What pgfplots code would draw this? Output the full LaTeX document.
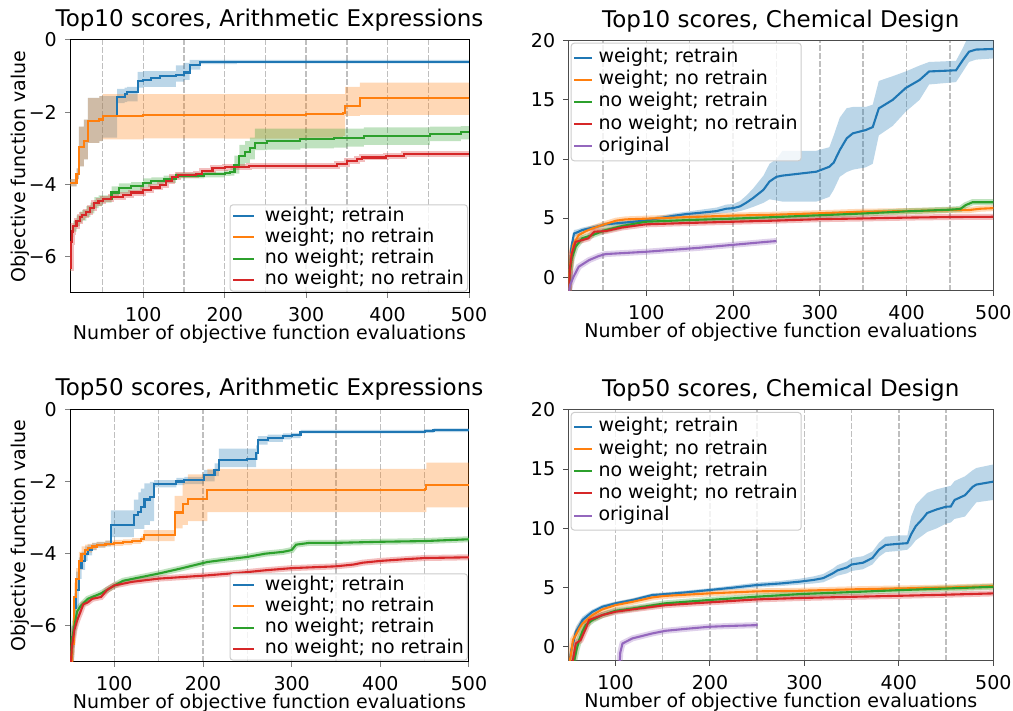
\documentclass[border=0pt]{standalone}
\usepackage{pgfplots}
\pgfplotsset{compat=1.18}
\usepackage{pgfplotstable}
\usepgfplotslibrary{fillbetween}
\usepackage{fontspec}
\setmainfont{DejaVu Sans}
\definecolor{tabblue}{HTML}{1F77B4}
\definecolor{taborange}{HTML}{FF7F0E}
\definecolor{tabgreen}{HTML}{2CA02C}
\definecolor{tabred}{HTML}{D62728}
\definecolor{tabpurple}{HTML}{9467BD}

% ---------------- Top10, Arithmetic ----------------
\pgfplotstableread{
x y lo hi
10 -3.95 -4.05 -3.85
18 -3.7 -3.85 -3.55
21 -2.95 -3.5 -2.4
27 -2.8 -3.3 -2.2
32 -2.25 -2.85 -1.6
46 -2.2 -2.8 -1.55
50 -2.1 -2.7 -1.55
68 -1.58 -1.75 -1.35
77 -1.5 -1.72 -1.32
80 -1.45 -1.7 -1.3
93 -1.14 -1.32 -0.88
100 -1.1 -1.3 -0.86
110 -1.05 -1.3 -0.86
120 -1.0 -1.3 -0.86
140 -0.98 -1.15 -0.7
150 -0.9 -1.1 -0.63
157 -0.68 -0.82 -0.55
170 -0.61 -0.67 -0.55
215 -0.6 -0.65 -0.55
500 -0.6 -0.65 -0.55
}\tlblue
\pgfplotstableread{
x y lo hi
10 -3.95 -4.05 -3.85
18 -3.7 -3.85 -3.55
21 -2.95 -3.5 -2.4
27 -2.8 -3.3 -2.2
32 -2.25 -2.85 -1.6
46 -2.2 -2.8 -1.55
50 -2.1 -2.75 -1.5
100 -2.08 -2.72 -1.5
200 -2.07 -2.73 -1.5
300 -2.05 -2.7 -1.5
345 -2.02 -2.65 -1.5
348 -1.82 -2.1 -1.3
366 -1.61 -2.07 -1.18
500 -1.6 -2.07 -1.18
}\tlorange
\pgfplotstableread{
x y lo hi
10 -6.3 -6.4 -6.2
11 -5.6 -5.75 -5.45
12 -5.3 -5.45 -5.15
14 -5.15 -5.3 -5.0
18 -5.0 -5.15 -4.85
22 -4.9 -5.05 -4.75
25 -4.85 -5.0 -4.7
30 -4.75 -4.9 -4.6
35 -4.65 -4.8 -4.5
40 -4.5 -4.65 -4.35
45 -4.45 -4.6 -4.3
50 -4.4 -4.5 -4.3
61 -4.22 -4.35 -4.05
70 -4.1 -4.25 -3.97
85 -4.05 -4.17 -3.93
100 -3.95 -4.07 -3.83
110 -3.9 -4.0 -3.8
125 -3.85 -3.95 -3.75
140 -3.75 -3.83 -3.67
175 -3.72 -3.8 -3.64
200 -3.68 -3.76 -3.6
207 -3.65 -3.75 -3.55
212 -3.45 -3.7 -3.2
218 -3.2 -3.5 -2.9
225 -3.1 -3.4 -2.8
231 -3.0 -3.3 -2.7
237 -2.85 -3.05 -2.45
252 -2.8 -3.03 -2.45
293 -2.75 -3.0 -2.45
334 -2.72 -2.98 -2.45
350 -2.7 -2.95 -2.45
371 -2.65 -2.9 -2.42
452 -2.6 -2.8 -2.4
490 -2.55 -2.75 -2.38
500 -2.55 -2.75 -2.38
}\tlgreen
\pgfplotstableread{
x y
10 -6.3
11 -5.6
12 -5.3
14 -5.15
18 -5.0
22 -4.9
25 -4.85
30 -4.75
35 -4.65
40 -4.5
45 -4.45
50 -4.4
60 -4.35
75 -4.3
85 -4.22
100 -4.15
110 -4.08
120 -4.0
128 -3.9
135 -3.8
143 -3.74
165 -3.72
172 -3.62
185 -3.55
200 -3.52
230 -3.48
338 -3.43
350 -3.35
363 -3.3
369 -3.25
398 -3.2
420 -3.15
500 -3.15
}\tlred

% ---------------- Top10, Chemical ----------------
\pgfplotstableread{
x y lo hi
10 -2 -2.2 -1.8
12 1.0 0.7 1.3
13.5 2.5 2.1 2.9
16.5 3.7 3.4 4.0
20 3.8 3.55 4.05
26 4.0 3.8 4.2
38 4.2 4.0 4.4
53 4.48 4.3 4.65
70 4.6 4.45 4.75
85 4.7 4.55 4.85
99 4.8 4.65 4.95
115 5.0 4.8 5.2
131 5.2 5.0 5.4
146 5.35 5.15 5.55
161 5.45 5.2 5.7
181 5.6 5.35 5.9
192 5.8 5.45 6.15
200 5.85 5.5 6.2
208 6.0 5.6 6.45
215 6.3 5.75 6.9
223 6.7 5.95 7.5
235 7.4 6.3 8.6
242 8.1 6.6 9.6
250 8.5 6.5 10.0
257 8.6 6.4 10.7
296 8.93 6.4 10.7
311 9.35 6.8 11.0
316 9.7 7.4 12.0
323 10.76 8.5 13.5
331 11.75 8.9 14.3
338 12.17 9.1 14.4
353 12.45 9.3 14.4
361 12.7 9.6 14.6
368 14.28 12.0 16.6
384 15.0 12.8 17.0
399 16.0 14.0 17.4
415 16.68 15.0 17.9
426 17.4 16.3 18.2
457 17.5 16.5 18.3
465 18.37 17.4 19.4
472 19.07 18.2 20.5
480 19.25 18.4 20.6
500 19.3 18.5 20.6
}\trblue
\pgfplotstableread{
x y
10 -2
11.5 0.5
13 1.8
16 2.8
22 3.57
30 3.9
38 4.14
49 4.42
65 4.79
76 4.9
99 4.96
150 5.1
199 5.22
250 5.3
300 5.42
350 5.55
400 5.6
450 5.68
472 5.69
485 5.8
500 5.85
}\trorange
\pgfplotstableread{
x y
10 -2
12 0.5
14 1.6
18.4 2.59
26 3.3
38 3.58
53 4.0
72 4.34
99 4.7
150 4.85
199 4.96
250 5.1
300 5.25
350 5.4
400 5.58
450 5.72
462 5.78
468 6.1
476 6.35
500 6.35
}\trgreen
\pgfplotstableread{
x y
10 -2
12 0.8
14 2.0
18.4 3.0
26 3.15
33 3.3
40 3.86
53 3.91
72 4.22
99 4.48
150 4.6
199 4.7
250 4.8
300 4.92
350 4.98
400 5.05
450 5.1
500 5.12
}\trred
\pgfplotstableread{
x y
10 -1.5
12 -0.65
16 0.05
22 0.9
34 1.46
45 1.8
53 1.97
99 2.16
161 2.5
200 2.75
238 3.0
250 3.07
}\trpurple

% ---------------- Top50, Arithmetic ----------------
\pgfplotstableread{
x y lo hi
50 -7.5 -7.5 -7.5
52 -6.3 -6.6 -6.0
55 -5.5 -5.9 -5.1
57 -5.0 -5.5 -4.5
60 -4.4 -4.7 -4.1
63 -4.2 -4.45 -3.95
67 -4.0 -4.2 -3.8
70 -3.9 -4.05 -3.75
75 -3.8 -3.9 -3.7
80 -3.75 -3.83 -3.67
90 -3.72 -3.8 -3.64
96 -3.2 -3.54 -2.8
122 -2.94 -3.31 -2.5
127 -2.85 -3.31 -2.3
130 -2.7 -3.31 -2.2
134 -2.5 -3.2 -2.05
140 -2.43 -3.1 -2.01
145 -2.06 -2.16 -1.96
170 -2.0 -2.1 -1.9
179 -1.97 -2.07 -1.87
201 -1.83 -2.0 -1.68
213 -1.69 -1.85 -1.5
218 -1.41 -1.6 -1.09
250 -1.37 -1.6 -1.09
260 -1.2 -1.4 -1.0
262 -0.86 -0.98 -0.74
273 -0.79 -0.9 -0.7
290 -0.75 -0.83 -0.67
300 -0.72 -0.8 -0.65
310 -0.62 -0.67 -0.57
450 -0.6 -0.65 -0.55
460 -0.58 -0.63 -0.53
500 -0.58 -0.63 -0.53
}\blblue
\pgfplotstableread{
x y lo hi
50 -7.5 -7.5 -7.5
52 -6.5 -6.8 -6.2
55 -5.2 -5.6 -4.8
57 -4.7 -5.0 -4.4
60 -4.2 -4.45 -3.95
63 -4.0 -4.2 -3.8
67 -3.9 -4.05 -3.75
70 -3.85 -3.97 -3.73
75 -3.8 -3.9 -3.7
80 -3.75 -3.83 -3.67
90 -3.72 -3.8 -3.64
100 -3.7 -3.78 -3.62
110 -3.68 -3.76 -3.6
120 -3.65 -3.73 -3.57
130 -3.6 -3.68 -3.52
133 -3.49 -3.65 -3.35
165 -3.49 -3.65 -3.35
168 -2.86 -3.3 -2.4
177 -2.62 -3.2 -2.0
183 -2.48 -3.1 -1.8
205 -2.24 -2.85 -1.65
450 -2.22 -2.85 -1.65
452 -2.1 -2.72 -1.48
500 -2.1 -2.72 -1.48
}\blorange
\pgfplotstableread{
x y
50 -7.5
52 -6.4
55 -6.0
58 -5.6
62 -5.45
66 -5.35
70 -5.25
85 -5.1
92 -5.0
100 -4.88
110 -4.75
122 -4.69
150 -4.55
175 -4.41
205 -4.23
230 -4.15
250 -4.09
270 -4.0
290 -3.95
300 -3.9
305 -3.75
320 -3.7
350 -3.7
400 -3.67
450 -3.65
500 -3.6
}\blgreen
\pgfplotstableread{
x y
50 -7.5
52 -6.6
55 -6.1
58 -5.85
62 -5.6
65 -5.4
70 -5.35
75 -5.25
85 -5.2
92 -5.0
100 -4.88
120 -4.78
150 -4.69
175 -4.65
205 -4.6
250 -4.51
270 -4.46
300 -4.4
350 -4.35
370 -4.3
380 -4.25
400 -4.2
430 -4.15
450 -4.12
500 -4.1
}\blred

% ---------------- Top50, Chemical ----------------
\pgfplotstableread{
x y lo hi
50 -2 -2.2 -1.8
53 -0.3 -0.7 0.1
56 0.6 0.1 1.1
58 1.27 0.8 1.7
62 1.8 1.4 2.2
65 2.26 1.95 2.55
70 2.6 2.35 2.85
75.6 2.96 2.75 3.15
86 3.38 3.2 3.55
100 3.67 3.5 3.82
118 3.95 3.8 4.1
139 4.37 4.22 4.52
153 4.45 4.3 4.6
175 4.6 4.45 4.75
199 4.79 4.64 4.94
225 5.0 4.82 5.18
249 5.21 5.0 5.42
275 5.35 5.13 5.57
295 5.5 5.25 5.75
310 5.65 5.35 5.95
320 5.8 5.45 6.15
330 6.2 5.8 6.6
335 6.45 6.0 6.9
345 6.7 6.2 7.2
350 6.95 6.4 7.5
362 7.1 6.55 7.65
372 7.5 6.95 8.05
379 8.2 7.6 8.8
386 8.6 8.0 9.3
400 8.7 8.1 9.4
409 8.75 8.2 9.4
413 9.5 8.5 11.0
418 10.2 9.0 12.0
425 10.8 9.4 12.6
430 11.3 9.7 13.0
440 11.6 10.0 13.3
450 11.83 10.4 13.5
455 11.85 10.5 13.6
459 12.4 10.8 14.0
470 12.8 11.0 14.4
478 13.5 11.8 14.9
482 13.7 12.2 15.1
500 13.95 12.4 15.4
}\brblue
\pgfplotstableread{
x y
50 -2
53 -0.5
55 0.6
58 1.0
62 1.6
65 1.97
70 2.3
75.6 2.68
86 3.16
100 3.52
118 3.8
139 4.17
153 4.3
199 4.51
249 4.68
295 4.73
350 4.85
402 4.93
450 5.0
500 5.12
}\brorange
\pgfplotstableread{
x y
50 -2
56 -1.3
58.5 -0.3
61.5 0.57
65 1.3
68.5 1.83
75.6 2.26
86 2.68
100 3.04
118 3.24
153 3.67
199 3.95
249 4.23
295 4.45
350 4.62
402 4.79
450 4.92
500 5.07
}\brgreen
\pgfplotstableread{
x y
50 -2
54.5 -1.3
58 0.28
63 0.56
68.5 1.55
72 2.26
86 2.68
100 2.96
118 3.16
153 3.52
199 3.75
249 4.0
295 4.12
350 4.22
402 4.31
450 4.4
500 4.51
}\brred
\pgfplotstableread{
x y
103.8 -2
105 -0.5
107.4 0.28
118 0.71
139 1.13
153 1.35
175 1.52
199 1.69
225 1.77
250.4 1.83
}\brpurple

\pgfplotsset{
  base/.style={
    scale only axis,
    axis line style={line width=1pt},
    tick align=outside,
    xtick pos=bottom, ytick pos=left,
    major tick length=5pt,
    tick style={line width=1pt},
    tick label style={font=\fontsize{19}{23}\selectfont},
    xticklabel style={anchor=base, inner sep=0pt, yshift=-24pt},
    yticklabel style={anchor=east, inner sep=0pt, xshift=-8pt},
    title style={font=\fontsize{23}{27}\selectfont, at={(axis description cs:0.5,1)}, anchor=base, yshift=7.3pt},
    xlabel style={font=\fontsize{19}{23}\selectfont, at={(axis description cs:0.5,0)}, anchor=base, yshift=-47pt},
    ylabel style={font=\fontsize{19}{23}\selectfont, at={(axis description cs:-0.1103,0.5)}, anchor=base},
    xlabel={Number of objective function evaluations},
    xmax=500,
    xtick={100,200,300,400,500},
    xticklabels={100,200,300,400,500},
    extra x tick labels={},
    extra x tick style={major tick length=0pt, xmajorgrids=true},
    major grid style={black!25, line width=1.5pt, dash pattern=on 5.5pt off 2.5pt},
    legend cell align=left,
    legend image code/.code={\draw[##1, line width=2pt] (0pt,0pt) -- (20.7pt,0pt);},
  },
  lnA/.style={line width=2.1pt, const plot},
  lnC/.style={line width=2.1pt},
  bandthick/.style={line width=6pt, opacity=0.3, forget plot},
  leg4/.style={legend style={at={(axis description cs:1,0)}, anchor=south east, xshift=-1pt, yshift=1.3pt,
      draw=black!20, line width=1pt, fill=white, fill opacity=0.8, text opacity=1, rounded corners=3pt,
      inner xsep=2pt, inner ysep=1pt, row sep=0pt, column sep=8.5pt,
      font=\fontsize{19}{19}\selectfont,
      nodes={inner xsep=1.5pt, inner ysep=1.05pt, text height=14.5pt, text depth=4.5pt}}},
  leg5/.style={legend style={at={(axis description cs:0,1)}, anchor=north west, xshift=2.4pt, yshift=-2pt,
      draw=black!20, line width=1pt, fill=white, fill opacity=0.8, text opacity=1, rounded corners=3pt,
      inner xsep=2pt, inner ysep=3.3pt, row sep=0pt, column sep=4.5pt,
      font=\fontsize{19}{19}\selectfont,
      nodes={inner xsep=1.5pt, inner ysep=1.6pt, text height=14.5pt, text depth=4.5pt}},
      legend image code/.code={\draw[##1, line width=2pt] (0pt,0pt) -- (17.3pt,0pt);}},
  rightframe/.style={axis line style={black!70}, tick style={black!70}},
}

\begin{document}
\begin{tikzpicture}

% ===== Top-left =====
\begin{axis}[base, leg4, at={(70pt,418pt)}, anchor=south west, width=399pt, height=253pt,
  xmin=10, ymin=-7, ymax=0, ytick={-6,-4,-2,0}, yticklabels={−6,−4,−2,0},
  extra x ticks={50,100,150,200,250,300,350,400,450},
  title={Top10 scores, Arithmetic Expressions}, ylabel={Objective function value}]
\addplot[name path=tlbh, draw=none, const plot, forget plot] table[x=x,y=hi]{\tlblue};
\addplot[name path=tlbl, draw=none, const plot, forget plot] table[x=x,y=lo]{\tlblue};
\addplot[tabblue, fill opacity=0.3, draw=none, forget plot] fill between[of=tlbh and tlbl];
\addplot[name path=tloh, draw=none, const plot, forget plot] table[x=x,y=hi]{\tlorange};
\addplot[name path=tlol, draw=none, const plot, forget plot] table[x=x,y=lo]{\tlorange};
\addplot[taborange, fill opacity=0.3, draw=none, forget plot] fill between[of=tloh and tlol];
\addplot[name path=tlgh, draw=none, const plot, forget plot] table[x=x,y=hi]{\tlgreen};
\addplot[name path=tlgl, draw=none, const plot, forget plot] table[x=x,y=lo]{\tlgreen};
\addplot[tabgreen, fill opacity=0.3, draw=none, forget plot] fill between[of=tlgh and tlgl];
\addplot[tabred, bandthick, const plot] table[x=x,y=y]{\tlred};
\addplot[tabblue, lnA] table[x=x,y=y]{\tlblue};
\addlegendentry{weight; retrain}
\addplot[taborange, lnA] table[x=x,y=y]{\tlorange};
\addlegendentry{weight; no retrain}
\addplot[tabgreen, lnA] table[x=x,y=y]{\tlgreen};
\addlegendentry{no weight; retrain}
\addplot[tabred, lnA] table[x=x,y=y]{\tlred};
\addlegendentry{no weight; no retrain}
\end{axis}

% ===== Top-right =====
\begin{axis}[base, rightframe, leg5, at={(568.3pt,420pt)}, anchor=south west, width=425pt, height=250.3pt,
  xmin=10, ymin=-1.15, ymax=20, ytick={0,5,10,15,20}, yticklabels={0,5,10,15,20},
  extra x ticks={50,100,150,200,250,300,350,400,450},
  title={Top10 scores, Chemical Design}]
\addplot[name path=trbh, draw=none, forget plot] table[x=x,y=hi]{\trblue};
\addplot[name path=trbl, draw=none, forget plot] table[x=x,y=lo]{\trblue};
\addplot[tabblue, fill opacity=0.3, draw=none, forget plot] fill between[of=trbh and trbl];
\addplot[taborange, bandthick] table[x=x,y=y]{\trorange};
\addplot[tabgreen, bandthick] table[x=x,y=y]{\trgreen};
\addplot[tabred, bandthick] table[x=x,y=y]{\trred};
\addplot[tabpurple, bandthick] table[x=x,y=y]{\trpurple};
\addplot[tabblue, lnC] table[x=x,y=y]{\trblue};
\addlegendentry{weight; retrain}
\addplot[taborange, lnC] table[x=x,y=y]{\trorange};
\addlegendentry{weight; no retrain}
\addplot[tabgreen, lnC] table[x=x,y=y]{\trgreen};
\addlegendentry{no weight; retrain}
\addplot[tabred, lnC] table[x=x,y=y]{\trred};
\addlegendentry{no weight; no retrain}
\addplot[tabpurple, lnC] table[x=x,y=y]{\trpurple};
\addlegendentry{original}
\end{axis}

% ===== Bottom-left =====
\begin{axis}[base, leg4, at={(70pt,49pt)}, anchor=south west, width=399pt, height=252.7pt,
  xmin=50, ymin=-7, ymax=0, ytick={-6,-4,-2,0}, yticklabels={−6,−4,−2,0},
  extra x ticks={100,150,200,250,300,350,400,450},
  title={Top50 scores, Arithmetic Expressions}, ylabel={Objective function value}]
\addplot[name path=blbh, draw=none, const plot, forget plot] table[x=x,y=hi]{\blblue};
\addplot[name path=blbl, draw=none, const plot, forget plot] table[x=x,y=lo]{\blblue};
\addplot[tabblue, fill opacity=0.3, draw=none, forget plot] fill between[of=blbh and blbl];
\addplot[name path=bloh, draw=none, const plot, forget plot] table[x=x,y=hi]{\blorange};
\addplot[name path=blol, draw=none, const plot, forget plot] table[x=x,y=lo]{\blorange};
\addplot[taborange, fill opacity=0.3, draw=none, forget plot] fill between[of=bloh and blol];
\addplot[tabgreen, bandthick] table[x=x,y=y]{\blgreen};
\addplot[tabred, bandthick] table[x=x,y=y]{\blred};
\addplot[tabblue, lnA] table[x=x,y=y]{\blblue};
\addlegendentry{weight; retrain}
\addplot[taborange, lnA] table[x=x,y=y]{\blorange};
\addlegendentry{weight; no retrain}
\addplot[tabgreen, lnC] table[x=x,y=y]{\blgreen};
\addlegendentry{no weight; retrain}
\addplot[tabred, lnC] table[x=x,y=y]{\blred};
\addlegendentry{no weight; no retrain}
\end{axis}

% ===== Bottom-right =====
\begin{axis}[base, rightframe, leg5, at={(568.3pt,50pt)}, anchor=south west, width=425pt, height=251pt,
  xmin=50, ymin=-1.2, ymax=20, ytick={0,5,10,15,20}, yticklabels={0,5,10,15,20},
  extra x ticks={100,150,200,250,300,350,400,450},
  title={Top50 scores, Chemical Design}]
\addplot[name path=brbh, draw=none, forget plot] table[x=x,y=hi]{\brblue};
\addplot[name path=brbl, draw=none, forget plot] table[x=x,y=lo]{\brblue};
\addplot[tabblue, fill opacity=0.3, draw=none, forget plot] fill between[of=brbh and brbl];
\addplot[taborange, bandthick] table[x=x,y=y]{\brorange};
\addplot[tabgreen, bandthick] table[x=x,y=y]{\brgreen};
\addplot[tabred, bandthick] table[x=x,y=y]{\brred};
\addplot[tabpurple, bandthick] table[x=x,y=y]{\brpurple};
\addplot[tabblue, lnC] table[x=x,y=y]{\brblue};
\addlegendentry{weight; retrain}
\addplot[taborange, lnC] table[x=x,y=y]{\brorange};
\addlegendentry{weight; no retrain}
\addplot[tabgreen, lnC] table[x=x,y=y]{\brgreen};
\addlegendentry{no weight; retrain}
\addplot[tabred, lnC] table[x=x,y=y]{\brred};
\addlegendentry{no weight; no retrain}
\addplot[tabpurple, lnC] table[x=x,y=y]{\brpurple};
\addlegendentry{original}
\end{axis}
\pgfresetboundingbox
\path[use as bounding box] (0pt,0pt) rectangle (1013pt,711pt);
\end{tikzpicture}
\end{document}
